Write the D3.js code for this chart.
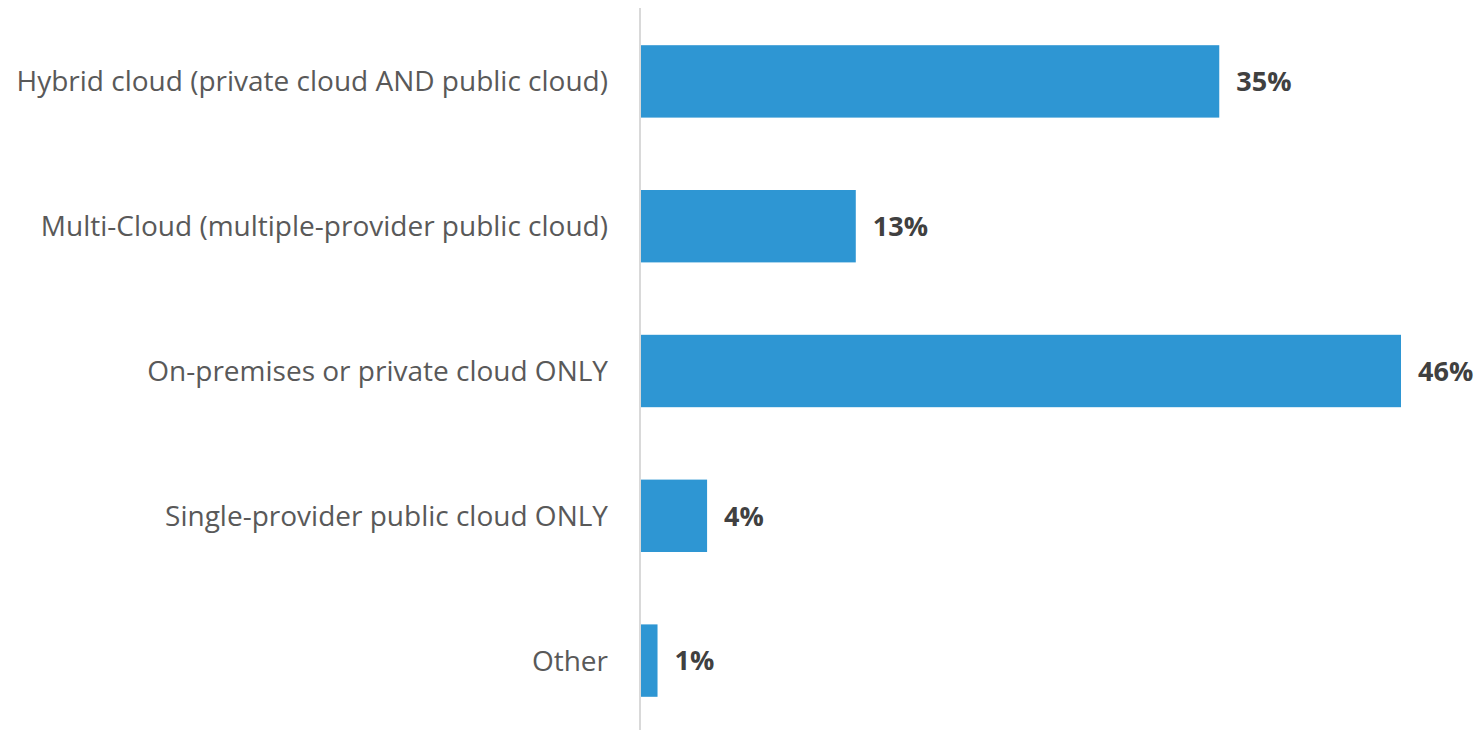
<!DOCTYPE html>
<html>
<head>
<meta charset="utf-8">
<script src="https://cdn.jsdelivr.net/npm/d3@7"></script>
<style>
  html, body { margin: 0; padding: 0; background: #ffffff; }
  svg { display: block; }
</style>
</head>
<body>
<svg id="chart" width="1478" height="730"></svg>
<script>
// Cloud deployment strategy, share of respondents (%)
const categories = [
  "Hybrid cloud (private cloud AND public cloud)",
  "Multi-Cloud (multiple-provider public cloud)",
  "On-premises or private cloud ONLY",
  "Single-provider public cloud ONLY",
  "Other"
];
const values = [35, 13, 46, 4, 1];
const valueLabels = ["35%", "13%", "46%", "4%", "1%"];

const W = 1478, H = 730;
const axisX = 640;
const svg = d3.select("#chart");

const x = d3.scaleLinear().domain([0, 46]).range([axisX + 1, 1401]);
const y = d3.scaleBand()
  .domain(categories)
  .range([9, 733])
  .paddingInner(0.5)
  .paddingOuter(0.25);

// bars
svg.append("g").selectAll("rect")
  .data(categories)
  .join("rect")
  .attr("x", x(0))
  .attr("y", d => y(d))
  .attr("width", (d, i) => x(values[i]) - x(0))
  .attr("height", y.bandwidth())
  .attr("fill", "#2E96D3");

// category axis on the left
const yAxis = d3.axisLeft(y).tickSize(0).tickPadding(32);
const gy = svg.append("g")
  .attr("transform", `translate(${axisX},0)`)
  .call(yAxis);
gy.select(".domain").remove();
gy.selectAll("text")
  .attr("font-family", "'Open Sans', sans-serif")
  .attr("font-size", 28)
  .attr("fill", "#595959")
  .attr("dy", "0.36em");

// vertical axis line
svg.append("line")
  .attr("x1", axisX).attr("x2", axisX)
  .attr("y1", 8).attr("y2", H)
  .attr("stroke", "#d9d9d9")
  .attr("stroke-width", 2);

// value labels
svg.append("g").selectAll("text")
  .data(categories)
  .join("text")
  .attr("x", (d, i) => x(values[i]) + 17)
  .attr("y", d => y(d) + y.bandwidth() / 2)
  .attr("dy", "0.36em")
  .attr("font-family", "'Open Sans', sans-serif")
  .attr("font-weight", "bold")
  .attr("font-size", 27)
  .attr("fill", "#404040")
  .text((d, i) => valueLabels[i]);
</script>
</body>
</html>
